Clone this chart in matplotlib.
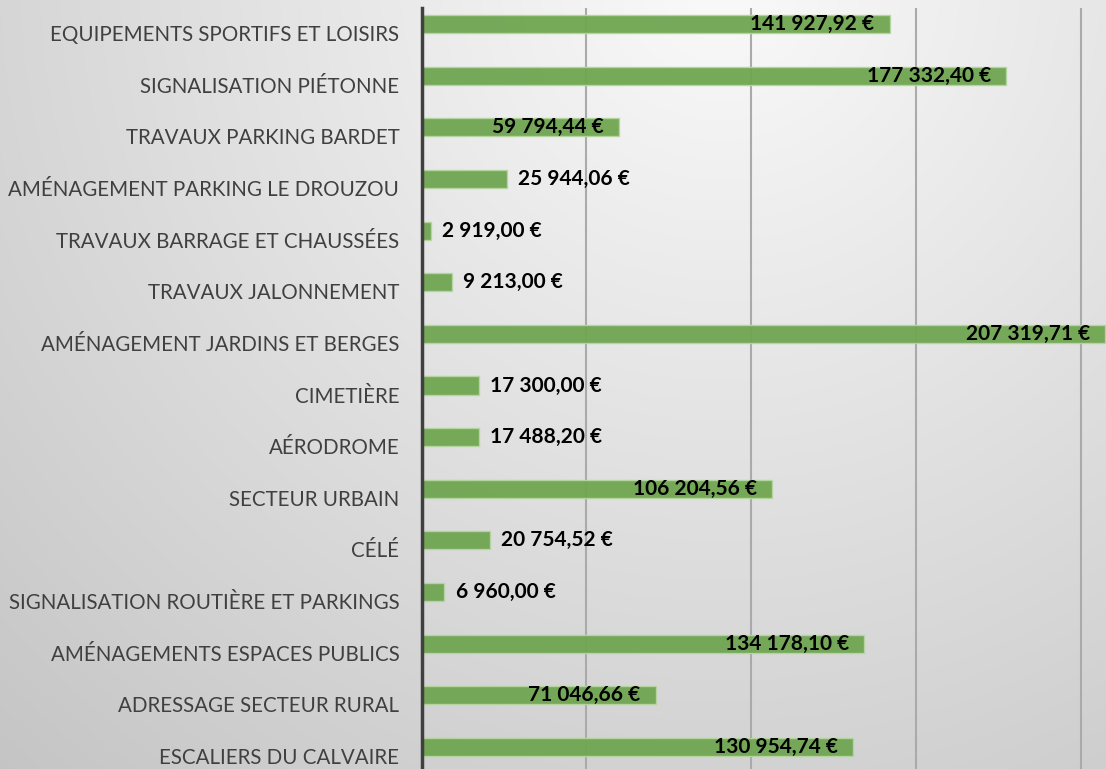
import numpy as np
import matplotlib
matplotlib.use("Agg")
import matplotlib.pyplot as plt
import matplotlib.transforms as mtransforms
from matplotlib.ticker import MultipleLocator

categories = [
    "EQUIPEMENTS SPORTIFS ET LOISIRS",
    "SIGNALISATION PIÉTONNE",
    "TRAVAUX PARKING BARDET",
    "AMÉNAGEMENT PARKING LE DROUZOU",
    "TRAVAUX BARRAGE ET CHAUSSÉES",
    "TRAVAUX JALONNEMENT",
    "AMÉNAGEMENT JARDINS ET BERGES",
    "CIMETIÈRE",
    "AÉRODROME",
    "SECTEUR URBAIN",
    "CÉLÉ",
    "SIGNALISATION ROUTIÈRE ET PARKINGS",
    "AMÉNAGEMENTS ESPACES PUBLICS",
    "ADRESSAGE SECTEUR RURAL",
    "ESCALIERS DU CALVAIRE",
]
amounts = [141927.92, 177332.40, 59794.44, 25944.06, 2919.00, 9213.00,
           207319.71, 17300.00, 17488.20, 106204.56, 20754.52, 6960.00,
           134178.10, 71046.66, 130954.74]

def euro(v):
    return f"{v:,.2f}".replace(",", " ").replace(".", ",") + " €"

W, H = 1106, 769
fig = plt.figure(figsize=(W / 100, H / 100), dpi=100)

# radial grey background
bg = fig.add_axes([0, 0, 1, 1], zorder=0)
yy, xx = np.mgrid[0:H, 0:W]
d = np.hypot(xx - 720, yy + 20)
c = np.clip(250 - 0.05 * d, 0, 255) / 255.0
bg.imshow(np.dstack([c, c, c]), extent=[0, W, H, 0], aspect="auto")
bg.set_axis_off()

left, right, top, bottom = 421.5, 1106, 8, 769
ax = fig.add_axes([left / W, 1 - bottom / H, (right - left) / W, (bottom - top) / H], zorder=1)
ax.patch.set_alpha(0)

n = len(categories)
ypos = np.arange(n)[::-1]
ax.barh(ypos, amounts, height=0.35, color="#6FA550", alpha=0.95,
        edgecolor="#b5d6a0", linewidth=1.0, zorder=3)

ax.set_xlim(0, 207500)
ax.set_ylim(-0.426, n - 1 + 0.31)
ax.xaxis.set_major_locator(MultipleLocator(50000))
ax.grid(axis="x", color="#aaaaaa", linewidth=1.5, zorder=1)
ax.tick_params(axis="x", bottom=False, labelbottom=False)
ax.tick_params(axis="y", length=0, pad=16, labelsize=14.8, labelcolor="#404040")
ax.set_yticks(ypos)
ax.set_yticklabels(categories, fontfamily="Lato")
shift = mtransforms.ScaledTranslation(0, -9 / 100, fig.dpi_scale_trans)
for lab in ax.get_yticklabels():
    lab.set_transform(lab.get_transform() + shift)
for s in ["top", "right", "bottom"]:
    ax.spines[s].set_visible(False)
ax.spines["left"].set_color("#404040")
ax.spines["left"].set_linewidth(2.5)
ax.spines["left"].set_zorder(4)

fig.canvas.draw()
renderer = fig.canvas.get_renderer()
for y, v in zip(ypos, amounts):
    t = ax.annotate(euro(v), (v, y), xytext=(-11, 0), textcoords="offset points",
                    ha="right", va="center", fontsize=15, fontweight="bold",
                    fontfamily="Lato", color="black", zorder=5)
    bb = t.get_window_extent(renderer)
    x0 = ax.transData.transform((0, y))[0]
    if bb.x0 < x0 + 4:
        t.set_ha("left")
        t.xyann = (8, 0)

fig.savefig("out.png", dpi=100)
